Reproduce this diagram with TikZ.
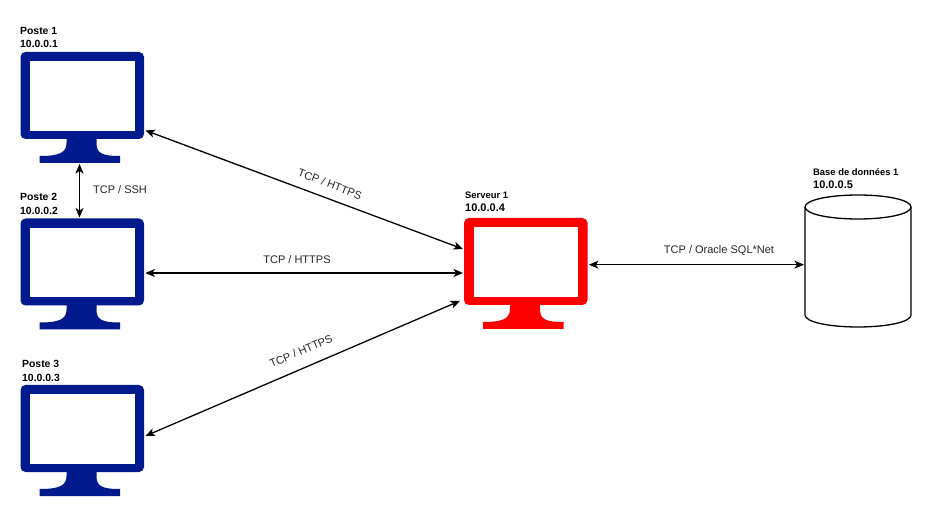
\documentclass[tikz,border=0pt]{standalone}
\usepackage{fontspec}
\setmainfont{Liberation Sans}
\usetikzlibrary{arrows.meta,calc}
\definecolor{poste}{RGB}{0,25,140}
\definecolor{serveur}{RGB}{255,0,0}
\tikzset{
  link/.style={draw=black,line width=1.3pt,{Stealth[length=9.5pt,width=8pt,inset=2.5pt]}-{Stealth[length=9.5pt,width=8pt,inset=2.5pt]}},
  proto/.style={font=\fontsize{11}{13}\selectfont,text=black!85,inner sep=0pt},
  title/.style={font=\bfseries\fontsize{10.4}{12}\selectfont,anchor=west,inner sep=0pt},
  smalltitle/.style={title,font=\bfseries\fontsize{9.4}{12}\selectfont},
  bigtitle/.style={title,font=\bfseries\fontsize{11}{12}\selectfont},
  pics/monitor/.style={code={
    \node[minimum width=123.5pt,minimum height=87pt,inner sep=0pt,anchor=north west] (-box) at (0,0) {};
    \fill[#1,rounded corners=5pt] (0,0) rectangle (123.5,87);
    \fill[white] (9.5,9.5) rectangle (114,78.7);
    \fill[#1] (46,86) -- (46,91) .. controls (46,101) and (38,104) .. (19,104) -- (19,111) -- (99.5,111) -- (99.5,104)
      .. controls (81,104) and (76,101) .. (76,91) -- (76,86) -- cycle;
    \coordinate (-foot) at (60,111);
  }}
}
\begin{document}
\begin{tikzpicture}[x=1pt,y=-1pt]
\useasboundingbox (0,0) rectangle (945,518);
\fill[white] (0,0) rectangle (945,518);
\pic (p1) at (20.5,52) {monitor=poste};
\pic (p2) at (20.5,218.5) {monitor=poste};
\pic (p3) at (20.5,385) {monitor=poste};
\pic (s1) at (464,218) {monitor=serveur};
\node[minimum width=106pt,minimum height=132pt,inner sep=0pt,anchor=north west] (db) at (805,195) {};
\draw[black,line width=1.3pt,fill=white] (805,207) .. controls (805,200) and (829,195) .. (858,195) .. controls (887,195) and (911,200) .. (911,207)
  -- (911,315) .. controls (911,322) and (887,327) .. (858,327) .. controls (829,327) and (805,322) .. (805,315) -- cycle;
\draw[black,line width=1.3pt] (805,207) .. controls (805,214) and (829,219) .. (858,219) .. controls (887,219) and (911,214) .. (911,207);

\node[title] (t1a) at (20,31) {Poste 1};
\node[title] (t1b) at (20,44) {10.0.0.1};
\node[title] (t2a) at (20,197) {Poste 2};
\node[title] (t2b) at (20,211) {10.0.0.2};
\node[title] (t3a) at (22,364) {Poste 3};
\node[title] (t3b) at (22,378) {10.0.0.3};
\node[smalltitle] (t4a) at (465,195) {Serveur 1};
\node[bigtitle] (t4b) at (465,208) {10.0.0.4};
\node[smalltitle] (t5a) at (813,172) {Base de données 1};
\node[bigtitle] (t5b) at (813,185) {10.0.0.5};

\draw[link] ($(p1-box.south east)+(1,-9)$) -- ($(s1-box.north west)+(-1,31)$);
\draw[link] ($(p2-box.north east)+(1,54.5)$) -- ($(s1-box.north west)+(-1,55)$);
\draw[link] ($(p3-box.north east)+(1,51)$) -- ($(s1-box.south west)+(-4,-4.5)$);
\draw[link] ($(s1-box.east)+(1,3)$) -- ($(db.west)+(-1,3.5)$);
\draw[link] ($(p1-foot)+(-1,1)$) -- ($(p2-foot |- p2-box.north)+(-1,-1)$);

\node[proto,rotate=-21] (l1) at (330,184) {TCP / HTTPS};
\node[proto] (l2) at (297,260) {TCP / HTTPS};
\node[proto,rotate=23] (l3) at (301,351) {TCP / HTTPS};
\node[proto] (l4) at (120,190) {TCP / SSH};
\node[proto] (l5) at (719,251) {TCP / Oracle SQL*Net};
\end{tikzpicture}
\end{document}
